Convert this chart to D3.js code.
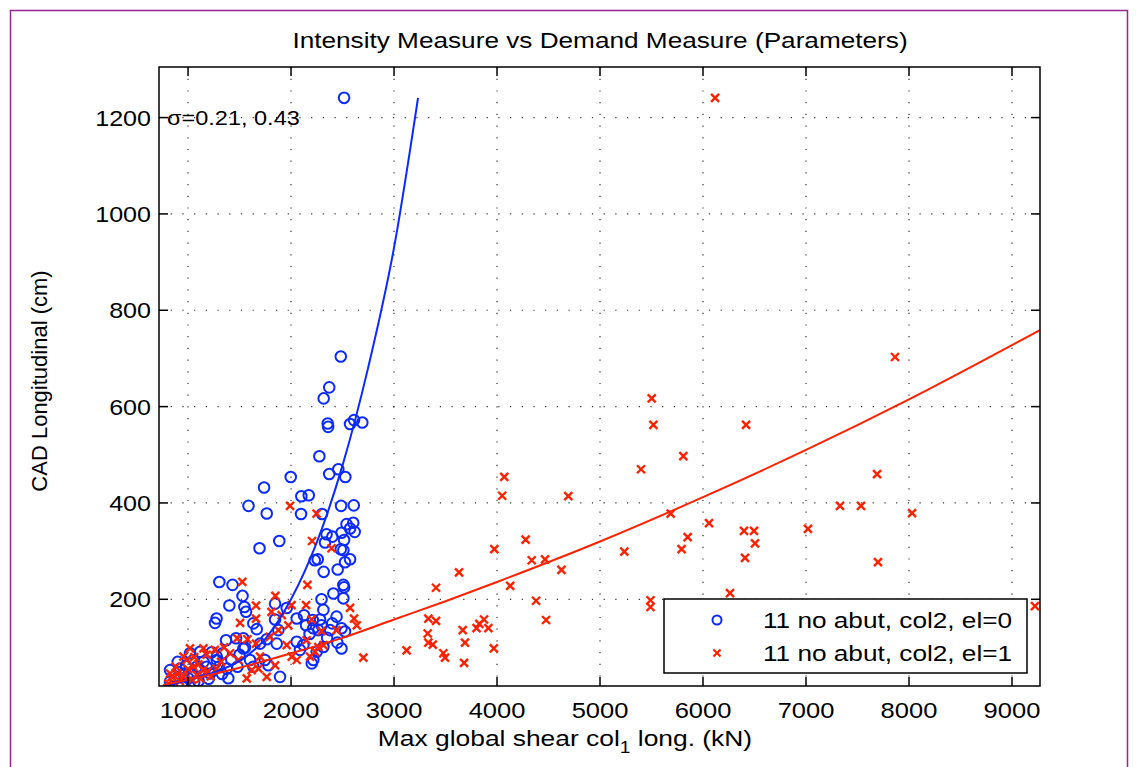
<html>
<head>
  <script src="https://d3js.org/d3.v7.min.js"></script>
  <style>
    body { margin: 0; background: white; }
    text { font-family: "Liberation Sans", Arial, Helvetica, sans-serif; fill: black; }
  </style>
</head>
<body>
<svg id="chart" width="1136" height="767"></svg>
<script>
// shear (kN), CAD (cm) pairs
const blueData = [
  [2515,1241],[2483,704],[2371,640],[2317,617],[2356,565],[2360,558],[2612,572],[2573,564],[2692,567],
  [2275,497],[2371,460],[2459,470],[2527,454],[1997,454],[1738,432],[2100,414],[2172,416],[1587,394],
  [1764,378],[2097,377],[2301,377],[2486,394],[2609,395],[2539,356],[2604,359],[2573,347],[2618,340],
  [2490,338],[2345,335],[2401,330],[2330,318],[2515,323],[1886,321],[1694,306],[2483,304],[2508,302],
  [2230,281],[2259,283],[2573,283],[2524,277],[2317,257],[2453,262],[1304,236],[1432,230],[2508,230],
  [2515,225],[2411,212],[1529,207],[2296,200],[2508,202],
  [1401,187],[1547,184],[1563,174],[1845,191],[1958,182],[1277,160],[1262,151],[1634,150],[1667,138],
  [1845,158],[1877,136],[2055,160],[2126,167],[2146,146],[2211,157],[2282,158],[2296,146],[2216,140],
  [2265,136],[2379,136],[2490,140],[2524,133],[2314,178],[2442,164],[1369,115],[1466,119],[1537,119],
  [1553,100],[1537,98],[1337,88],[1279,81],[1764,117],[1699,108],[1861,108],[2055,112],[2120,105],
  [2087,95],[2249,91],[2314,101],[2490,98],[2216,74],[2201,67],[1746,74],[1780,63],[1893,39],[1602,74],
  [1634,60],[1279,74],[1376,56],[1391,36],[1214,46],[1117,53],[1052,74],[1084,60],[955,46],[1003,36],
  [825,53],[922,56],[1019,88],[1117,91],[825,29],[939,25],
  [870,40],[900,70],[980,62],[1040,45],[1100,30],[1150,70],[1180,60],[1230,90],[1300,60],[1330,45],
  [1420,75],[1480,60],[1500,85],[1200,35],[1060,28],[2400,150],[2350,120],[2450,110],[2180,128]
];
const redData = [
  [1990,394],[2248,378],[2204,321],[2393,306],[1527,236],[2159,230],[1848,207],
  [1660,187],[1810,174],[2005,188],[2146,188],[2573,182],[1505,151],[1660,160],[1910,167],[1974,146],
  [1877,136],[2612,160],[2638,146],[2199,158],[2296,134],[2442,136],[1478,119],[1576,117],[1660,108],
  [1794,122],[1958,105],[2151,115],[2265,101],[2314,105],[2702,79],[1149,98],[1019,98],[955,81],[987,74],
  [825,46],[841,39],[809,25],[1052,60],[1084,43],[1149,53],[1277,56],[1408,88],[1489,74],[1570,36],
  [1618,53],[1683,56],[1764,39],[1845,63],[2007,81],[2055,74],[2184,81],[2233,91],[1699,81],
  [880,60],[920,30],[1000,55],[1060,80],[1100,65],[1180,85],[1220,40],[1260,95],[1320,70],[1350,100],
  [1120,35],[960,40],[900,45],[1040,33],[1190,50],
  [5502,617],[5518,562],[5809,497],[5398,470],[4070,454],[4050,415],[4692,414],[5686,378],[6058,358],
  [5851,329],[5792,304],[5236,299],[4278,324],[3974,304],[4337,281],[4466,283],[4626,261],[3631,256],
  [3408,224],[4128,228],[4379,197],[5490,198],[5490,184],[3333,160],[3408,155],[4476,157],[3327,129],
  [3333,110],[3376,106],[3122,94],[3479,88],[3495,79],[3667,136],[3689,110],[3680,68],[3801,140],
  [3828,149],[3874,158],[3916,140],[3969,98],
  [6117,1241],[7864,703],[7690,460],[8030,379],[7330,394],[7534,394],[7019,346],[6495,342],[6398,342],
  [6505,316],[6408,286],[7699,277],[6262,213],[9223,186],[6418,562]
];
// fitted curves, points
const blueFit = [
  [763,20],[1000,32],[1250,48],[1500,72],[1750,118],[2000,200],[2250,318],[2500,478],
  [2750,682],[3000,930],[3233,1241]
];
const redFit = [
  [757,22],[1000,33],[1500,58],[2000,88],[2500,120],[3000,158],[3500,196],[4000,236],
  [5000,320],[6000,412],[7000,510],[8000,615],[9272,759]
];
const xTicks = [1000,2000,3000,4000,5000,6000,7000,8000,9000];
const yTicks = [200,400,600,800,1000,1200];
const legendLabels = ["11 no abut, col2, el=0", "11 no abut, col2, el=1"];

const svg = d3.select("#chart");
const pLeft = 159, pRight = 1040, pTop = 67, pBottom = 686;
const blue = "#0a2aff", red = "#ff2200";

// the source picture is stretched sideways, so horizontal text gets a x-scale
function addText(parent, px, py, str, size, anchor, sx) {
  return parent.append("text")
    .attr("transform", `translate(${px},${py}) scale(${sx},1)`)
    .attr("text-anchor", anchor).style("font-size", size + "px").text(str);
}

svg.append("rect").attr("width", 1136).attr("height", 767).attr("fill", "white");
svg.append("rect").attr("x", 10.5).attr("y", 10.5).attr("width", 1117).attr("height", 800)
  .attr("fill", "none").attr("stroke", "#93278f").attr("stroke-width", 1.5);

const x = d3.scaleLinear().domain([718, 9272]).range([pLeft, pRight]);
const y = d3.scaleLinear().domain([20, 1305]).range([pBottom, pTop]);

svg.append("defs").append("clipPath").attr("id", "clip")
  .append("rect").attr("x", pLeft).attr("y", pTop).attr("width", pRight - pLeft).attr("height", pBottom - pTop);

// grid
const grid = svg.append("g");
xTicks.forEach(t => {
  grid.append("line").attr("x1", x(t)).attr("x2", x(t)).attr("y1", pTop).attr("y2", pBottom)
    .attr("stroke", "#333").attr("stroke-width", 1.2).attr("stroke-dasharray", "1.2,10.5");
});
yTicks.forEach(t => {
  grid.append("line").attr("x1", pLeft).attr("x2", pRight).attr("y1", y(t)).attr("y2", y(t))
    .attr("stroke", "#333").attr("stroke-width", 1.2).attr("stroke-dasharray", "1.2,10.5");
});

const plot = svg.append("g").attr("clip-path", "url(#clip)");

plot.selectAll("circle.b").data(blueData).enter().append("circle")
  .attr("cx", d => x(d[0])).attr("cy", d => y(d[1])).attr("r", 5.3)
  .attr("fill", "none").attr("stroke", blue).attr("stroke-width", 2);

const s = 4;
plot.selectAll("path.r").data(redData).enter().append("path")
  .attr("d", d => {
    const cx = x(d[0]), cy = y(d[1]);
    return `M${cx - s},${cy - s}L${cx + s},${cy + s}M${cx - s},${cy + s}L${cx + s},${cy - s}`;
  })
  .attr("stroke", red).attr("stroke-width", 2.4).attr("fill", "none");

const line = d3.line().x(d => x(d[0])).y(d => y(d[1])).curve(d3.curveMonotoneX);
plot.append("path").datum(blueFit).attr("d", line).attr("fill", "none").attr("stroke", blue).attr("stroke-width", 2);
plot.append("path").datum(redFit).attr("d", line).attr("fill", "none").attr("stroke", red).attr("stroke-width", 2);

// axes box and ticks
const axisG = svg.append("g").attr("stroke", "black").attr("stroke-width", 1.5);
axisG.append("rect").attr("x", pLeft).attr("y", pTop).attr("width", pRight - pLeft).attr("height", pBottom - pTop)
  .attr("fill", "none");
xTicks.forEach(t => {
  axisG.append("line").attr("x1", x(t)).attr("x2", x(t)).attr("y1", pBottom).attr("y2", pBottom - 9);
  axisG.append("line").attr("x1", x(t)).attr("x2", x(t)).attr("y1", pTop).attr("y2", pTop + 9);
});
yTicks.forEach(t => {
  axisG.append("line").attr("x1", pLeft).attr("x2", pLeft + 9).attr("y1", y(t)).attr("y2", y(t));
  axisG.append("line").attr("x1", pRight).attr("x2", pRight - 9).attr("y1", y(t)).attr("y2", y(t));
});

xTicks.forEach(t => addText(svg, x(t), 718, t, 22, "middle", 1.16));
yTicks.forEach(t => addText(svg, 151, y(t) + 8, t, 22, "end", 1.14));

addText(svg, 600, 48, "Intensity Measure vs Demand Measure (Parameters)", 22, "middle", 1.19);

const xl = svg.append("text").attr("transform", "translate(565,746) scale(1.2,1)")
  .attr("text-anchor", "middle").style("font-size", "22px");
xl.append("tspan").text("Max global shear col");
xl.append("tspan").attr("dy", 7).style("font-size", "16px").text("1");
xl.append("tspan").attr("dy", -7).text(" long. (kN)");

svg.append("text").attr("transform", "translate(47,381) rotate(-90)").attr("text-anchor", "middle")
  .style("font-size", "22px").text("CAD Longitudinal (cm)");

addText(svg, 167, 125, "σ=0.21, 0.43", 21, "start", 1.12);

// legend
const lg = svg.append("g");
lg.append("rect").attr("x", 664).attr("y", 599).attr("width", 363).attr("height", 74)
  .attr("fill", "white").attr("stroke", "black").attr("stroke-width", 1.5);
lg.append("circle").attr("cx", 717).attr("cy", 620).attr("r", 4.5)
  .attr("fill", "none").attr("stroke", blue).attr("stroke-width", 2);
lg.append("path").attr("d", "M713.5,649.5L720.5,656.5M713.5,656.5L720.5,649.5")
  .attr("stroke", red).attr("stroke-width", 2.2);
legendLabels.forEach((d, i) => addText(lg, 763, 628 + i * 33, d, 22, "start", 1.19));
</script>
</body>
</html>
